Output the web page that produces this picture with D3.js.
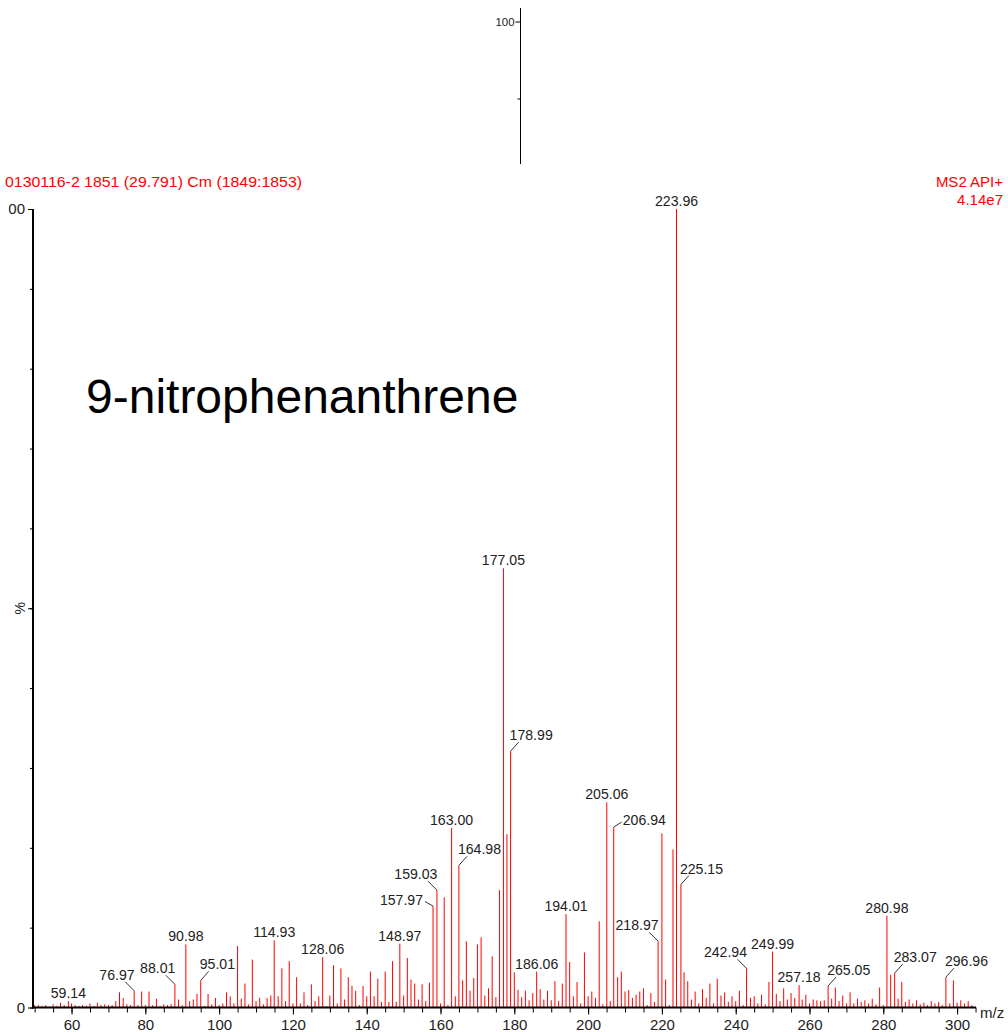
<!DOCTYPE html>
<html><head><meta charset="utf-8">
<script src="https://cdn.jsdelivr.net/npm/d3@7"></script>
<style>
body{margin:0;background:#fff}
svg{display:block}
text{font-family:"Liberation Sans",Arial,sans-serif}
</style>
</head><body>
<svg id="c" width="1008" height="1032"></svg>
<script>
// ---------- data ----------
const mz = [50,51,52,53,54,55,56,57,58,59.14,
60,61,62,63,64,65,66,67,68,69,
70,71,72,73,74,75,76,76.97,78,79,
80,81,82,83,84,85,86,87,88.01,89,
90,90.98,92,93,94,95.01,96,97,98,99,
100,101,102,103,104,105,106,107,108,109,
110,111,112,113,114,114.93,116,117,118,119,
120,121,122,123,124,125,126,127,128.06,129,
130,131,132,133,134,135,136,137,138,139,
140,141,142,143,144,145,146,147,148,148.97,
150,151,152,153,154,155,156,157,157.97,159.03,
160,161,162,163.00,164,164.98,166,167,168,169,
170,171,172,173,174,175,176,177.05,178,178.99,
180,181,182,183,184,185,186.06,187,188,189,
190,191,192,193,194.01,195,196,197,198,199,
200,201,202,203,204,205.06,206,206.94,208,209,
210,211,212,213,214,215,216,217,218,218.97,
220,221,222,223,223.96,225.15,226,227,228,229,
230,231,232,233,234,235,236,237,238,239,
240,241,242,242.94,244,245,246,247,248,249,
249.99,251,252,253,254,255,256,257.18,258,259,
260,261,262,263,264,265.05,266,267,268,269,
270,271,272,273,274,275,276,277,278,279,
280,280.98,282,283.07,284,285,286,287,288,289,
290,291,292,293,294,295,296,296.96,298,299,
300,301,302,303,304];

const intensity = [0.3,0.3,0.2,0.3,0.1,0.4,0.2,0.6,0.3,0.8,
0.5,0.3,0.2,0.3,0.2,0.5,0.2,0.6,0.3,0.4,
0.3,0.3,0.8,1.9,1.2,0.4,0.3,2.1,0.3,2.0,
0.3,2.0,0.3,1.1,0.2,0.4,0.3,0.4,2.9,1.0,
0.3,7.9,0.8,1.0,1.7,3.4,0.2,1.7,0.4,1.2,
0.3,0.5,1.9,1.4,0.5,7.7,1.1,3.0,0.4,6.0,
0.8,1.2,0.4,1.2,1.5,8.4,1.4,4.9,0.8,5.8,
0.5,3.8,0.5,1.9,0.3,2.9,0.8,1.4,6.3,0.2,
1.5,5.3,0.5,4.9,1.0,3.8,2.7,2.1,0.3,2.7,
1.4,4.5,1.4,3.6,0.7,4.5,0.7,5.8,0.7,8.0,
1.5,6.2,3.5,3.0,1.0,2.9,0.8,3.1,12.7,14.7,
0.5,13.8,0.3,22.5,1.4,17.8,3.4,8.3,2.1,3.7,
7.9,8.8,1.5,2.4,6.4,1.3,14.7,55.0,21.7,32.1,
4.4,2.2,1.3,2.1,0.9,1.8,4.5,2.3,1.0,2.1,
0.9,3.3,0.8,3.0,11.7,5.7,1.4,3.2,0.5,6.9,
1.4,2.0,1.2,10.8,0.4,25.7,0.8,22.6,3.8,4.5,
2.0,2.2,1.2,1.6,2.0,2.4,0.3,1.8,0.7,8.3,
21.8,3.5,0.3,19.8,100,15.4,4.4,3.3,1.0,2.0,
0.5,2.3,1.2,3.0,0.5,3.6,1.5,1.9,0.7,1.4,
0.8,2.1,0.3,4.9,1.2,1.4,0.5,1.6,0.4,3.2,
7.0,1.7,0.8,2.4,1.0,1.8,1.2,2.8,1.0,1.6,
0.5,1.0,0.9,0.8,0.9,2.7,1.1,2.5,0.8,1.5,
0.5,1.9,0.5,1.1,0.7,0.9,0.5,1.1,0.4,2.5,
0.3,11.5,4.1,4.3,1.1,3.2,0.7,1.0,0.5,0.9,
0.4,0.6,0.3,0.8,0.5,0.7,0.3,3.8,0.5,3.4,
0.6,0.9,0.5,0.8,0.3];

// labelled peaks and where their label sits relative to the peak
const labelMz   = [59.14,76.97,88.01,90.98,95.01,114.93,128.06,148.97,157.97,159.03,163.00,164.98,177.05,178.99,186.06,194.01,205.06,206.94,218.97,223.96,225.15,242.94,249.99,257.18,265.05,280.98,283.07,296.96];
const labelSide = ["C","L","L","C","R","C","C","C","LS","L","C","R","C","R","C","C","C","RS","L","C","R","L","C","C","R","C","R","R"];

const xTickLabels = [60,80,100,120,140,160,180,200,220,240,260,280,300];
const yTickLabels = [0,100];
const headerLeft = "0130116-2 1851 (29.791) Cm (1849:1853)";
const headerRight = ["MS2 API+","4.14e7"];
const title = "9-nitrophenanthrene";
const insetTicks = [50,100];

// ---------- drawing ----------
const svg = d3.select("#c");
const x = d3.scaleLinear().domain([49.5,305.5]).range([32.8,977.4]);
const y = d3.scaleLinear().domain([0,100]).range([1007.5,209]);

const defs = svg.append("defs");
defs.append("clipPath").attr("id","clipL").append("rect").attr("x",8.5).attr("y",0).attr("width",1000).attr("height",1032);

// top inset axis (empty panel)
const yIn = d3.scaleLinear().domain([0,100]).range([176,22]);
const gIn = svg.append("g").attr("transform","translate(520.5,0)");
gIn.append("line").attr("x1",0).attr("x2",0).attr("y1",8).attr("y2",164).attr("stroke","#000").attr("stroke-width",1);
gIn.selectAll("line.t").data(insetTicks).join("line").attr("class","t")
  .attr("x1",d=>d===100?-5:-3).attr("x2",0).attr("y1",d=>yIn(d)).attr("y2",d=>yIn(d)).attr("stroke","#000");
gIn.append("text").attr("x",-6).attr("y",yIn(100)).attr("dy","0.35em").attr("text-anchor","end")
  .attr("font-size",11).attr("fill","#222").attr("textLength",19).attr("lengthAdjust","spacingAndGlyphs").text("100");

// header
svg.append("text").attr("x",5).attr("y",187).attr("font-size",15).attr("fill","#ff0000")
  .attr("textLength",297).attr("lengthAdjust","spacingAndGlyphs").text(headerLeft);
svg.selectAll("text.hr").data(headerRight).join("text").attr("class","hr")
  .attr("x",1003).attr("y",(d,i)=>187+i*18).attr("text-anchor","end").attr("font-size",15).attr("fill","#ff0000").text(d=>d);

// title
svg.append("text").attr("x",86).attr("y",413).attr("font-size",48).attr("fill","#000").text(title);

// bars
svg.append("g").selectAll("line").data(d3.range(mz.length)).join("line")
  .attr("x1",i=>x(mz[i])).attr("x2",i=>x(mz[i]))
  .attr("y1",y(0)).attr("y2",i=>y(intensity[i]))
  .attr("stroke","#ff0000").attr("stroke-width",1);

// x axis
const gx = svg.append("g").attr("transform",`translate(0,${y(0)})`);
gx.call(d3.axisBottom(x).tickValues(d3.range(50,306,5)).tickSize(5).tickFormat(""))
  .call(g=>g.select(".domain").remove());
gx.append("g").call(d3.axisBottom(x).tickValues(xTickLabels).tickSize(7).tickPadding(5).tickFormat(d3.format("d")))
  .call(g=>g.select(".domain").remove())
  .call(g=>g.selectAll("text").attr("font-size",15).attr("fill","#222").attr("font-family",null));
gx.selectAll(".tick line").attr("stroke","#000");
gx.append("line").attr("x1",32).attr("x2",976).attr("y1",0).attr("y2",0).attr("stroke","#000").attr("stroke-width",2);
svg.append("text").attr("x",980).attr("y",1013).attr("dy","0.35em").attr("font-size",15).attr("fill","#222").text("m/z");

// y axis (inside a clip so the partially cut "100" label shows like the reference)
const gyWrap = svg.append("g").attr("clip-path","url(#clipL)");
const gy = gyWrap.append("g").attr("transform","translate(33,0)");
gy.call(d3.axisLeft(y).tickValues(d3.range(0,101,10)).tickSize(3).tickFormat(""))
  .call(g=>g.select(".domain").remove());
gy.append("g").call(d3.axisLeft(y).tickValues([0,50,100]).tickSize(5).tickPadding(3).tickFormat(d=>yTickLabels.includes(d)?d:""))
  .call(g=>g.select(".domain").remove())
  .call(g=>g.selectAll("text").attr("font-size",15).attr("fill","#222").attr("font-family",null));
gy.selectAll(".tick line").attr("stroke","#000");
gy.append("line").attr("x1",0).attr("x2",0).attr("y1",y(100)).attr("y2",y(0)+1).attr("stroke","#000").attr("stroke-width",2);
svg.append("text").attr("transform",`translate(25,${y(50)}) rotate(-90)`).attr("text-anchor","middle")
  .attr("font-size",14).attr("fill","#222").text("%");

// peak labels
const gl = svg.append("g");
labelMz.forEach((m,k)=>{
  const i = mz.indexOf(m);
  const px = x(m), py = y(intensity[i]);
  const side = labelSide[k];
  let tx, ty, anchor, lead = null;
  if(side==="C"){ tx=px; ty=py-3; anchor="middle"; }
  else if(side==="R"){ tx=px-1; ty=py-11; anchor="start"; lead=[px,py,px+8,py-9]; }
  else if(side==="L"){ tx=px+0.5; ty=py-11; anchor="end"; lead=[px,py,px-9,py-9]; }
  else if(side==="RS"){ tx=px+9; ty=py-2.5; anchor="start"; lead=[px,py,px+8,py-5]; }
  else { tx=px-10; ty=py-1.5; anchor="end"; lead=[px,py,px-8,py-4.5]; }
  if(lead) gl.append("line").attr("x1",lead[0]).attr("y1",lead[1]).attr("x2",lead[2]).attr("y2",lead[3])
    .attr("stroke","#333").attr("stroke-width",1);
  const t = gl.append("text").attr("x",tx).attr("y",ty).attr("text-anchor",anchor)
    .attr("font-size",15).attr("fill","#222").text(m.toFixed(2));
  const w = t.node().getComputedTextLength();
  t.attr("textLength",w*0.94).attr("lengthAdjust","spacingAndGlyphs");
});
</script>
</body></html>
